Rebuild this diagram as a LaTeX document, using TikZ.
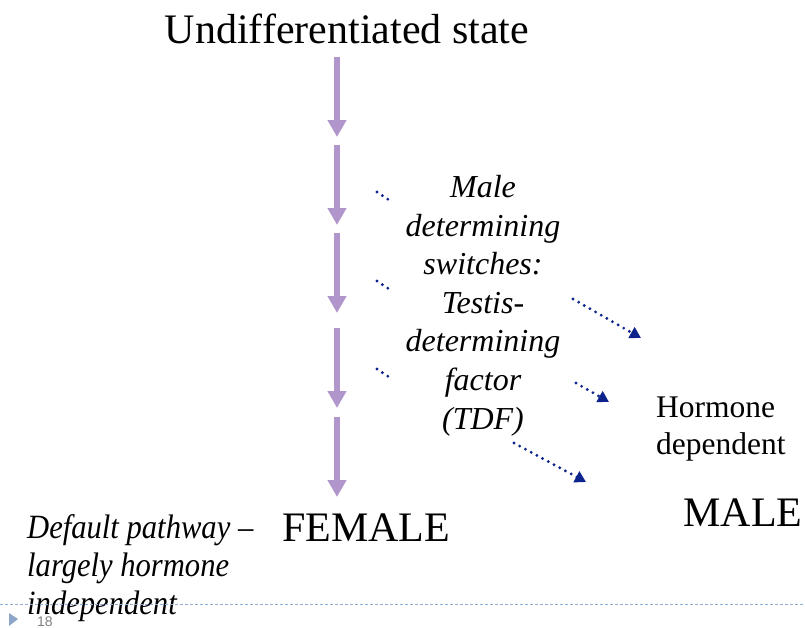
\documentclass[tikz,border=0pt]{standalone}
\usepackage{fontspec}
\setmainfont{Liberation Serif}
\newfontfamily\condit[FakeStretch=0.9,Ligatures=TeX]{Liberation Serif Italic}
\newfontfamily\numfont{Liberation Sans}
\usetikzlibrary{arrows.meta}
\definecolor{flowpurple}{RGB}{177,150,204}
\definecolor{dotblue}{RGB}{15,35,140}
\definecolor{lineblue}{RGB}{140,175,215}
\definecolor{trigray}{RGB}{140,165,200}
\begin{document}
\begin{tikzpicture}[x=1pt,y=-1pt,
  flowarrow/.style={draw=flowpurple,line width=6.5pt,-{Triangle[length=17pt,width=18pt]}},
  dotarrow/.style={draw=dotblue,line width=3.2pt,dash pattern=on 0pt off 6.5pt,line cap=round,-{Triangle[length=11pt,width=12pt]}},
  dotline/.style={draw=dotblue,line width=3.2pt,dash pattern=on 0pt off 6.5pt,line cap=round},
  lbl/.style={inner sep=0pt,anchor=base},
]
\useasboundingbox (0,0) rectangle (805,627);
% title
\node[lbl,font=\fontsize{42}{46}\selectfont] (title) at (347,43) {Undifferentiated state};
% flow arrow coordinates
\coordinate (a1s) at (337,57);  \coordinate (a1e) at (337,137);
\coordinate (a2s) at (337,145); \coordinate (a2e) at (337,225);
\coordinate (a3s) at (337,233); \coordinate (a3e) at (337,313);
\coordinate (a4s) at (337,328); \coordinate (a4e) at (337,408);
\coordinate (a5s) at (337,417); \coordinate (a5e) at (337,497);
\draw[flowarrow] (a1s) -- (a1e);
\draw[flowarrow] (a2s) -- (a2e);
\draw[flowarrow] (a3s) -- (a3e);
\draw[flowarrow] (a4s) -- (a4e);
\draw[flowarrow] (a5s) -- (a5e);
% TDF text
\node[inner sep=0pt,align=center,font=\fontsize{32}{38.6}\selectfont\itshape,anchor=north] (tdf) at (483,175)
 {Male\\determining\\switches:\\Testis-\\determining\\factor\\(TDF)};
% small dotted lines
\coordinate (d1s) at (377,192); \coordinate (d1e) at (392,202);
\coordinate (d2s) at (377,281); \coordinate (d2e) at (392,291);
\coordinate (d3s) at (377,369); \coordinate (d3e) at (392,379);
\draw[dotline] (d1s) -- (d1e);
\draw[dotline] (d2s) -- (d2e);
\draw[dotline] (d3s) -- (d3e);
% dotted arrows
\coordinate (e1s) at (573,299); \coordinate (e1e) at (641,338);
\coordinate (e2s) at (576,383); \coordinate (e2e) at (609,402);
\coordinate (e3s) at (514,443); \coordinate (e3e) at (586,482);
\draw[dotarrow] (e1s) -- (e1e);
\draw[dotarrow] (e2s) -- (e2e);
\draw[dotarrow] (e3s) -- (e3e);
% hormone dependent
\node[inner sep=0pt,align=left,font=\fontsize{31.5}{37}\selectfont,anchor=north west] (hd) at (656,397)
 {Hormone\\dependent};
% MALE / FEMALE
\node[lbl,font=\fontsize{42}{46}\selectfont] (male) at (743,526) {MALE};
\node[lbl,font=\fontsize{42}{46}\selectfont] (female) at (366,541) {FEMALE};
% default pathway
\node[inner sep=0pt,align=left,font=\fontsize{34}{38}\condit,anchor=north west] (def) at (27,514)
 {Default pathway –\\largely hormone\\independent};
% footer
\draw[lineblue,line width=0.8pt,dash pattern=on 3pt off 2pt] (0,604) -- (805,604);
\fill[trigray] (9,613) -- (18,619) -- (9,626) -- cycle;
\node[lbl,font=\fontsize{14}{15}\numfont,text=gray] (pg) at (45,626) {18};
\end{tikzpicture}
\end{document}
